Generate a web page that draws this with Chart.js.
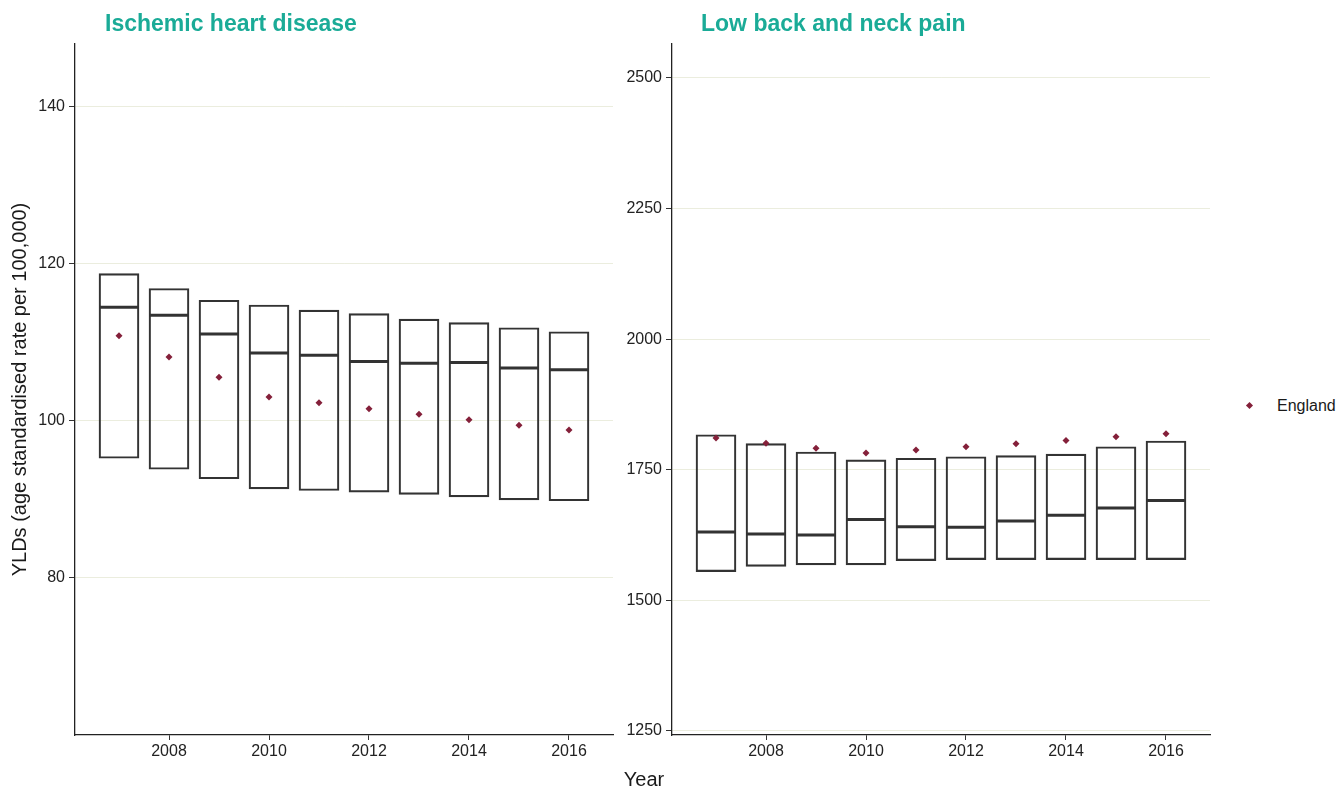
<!DOCTYPE html>
<html><head><meta charset="utf-8">
<script src="https://cdn.jsdelivr.net/npm/chart.js@4.4.1/dist/chart.umd.min.js"></script>
<style>
body{margin:0;background:#fff;width:1341px;height:789px;position:relative;overflow:hidden;font-family:"Liberation Sans",Arial,sans-serif;}
canvas{position:absolute;top:0;}
.ptitle{position:absolute;font-weight:bold;font-size:23px;color:#1aab97;line-height:23px;top:12px;white-space:nowrap;}
.xtitle{position:absolute;font-size:20px;line-height:20px;top:769px;left:644px;transform:translateX(-50%);color:#1a1a1a;white-space:nowrap;}
.legtext{position:absolute;font-size:16px;line-height:16px;top:398px;left:1277px;color:#1a1a1a;}
.legkey{position:absolute;left:1246.5px;top:402.5px;width:5px;height:5px;background:#84203a;transform:rotate(45deg);}
</style></head>
<body>
<canvas id="c1" width="618" height="789" style="left:0px"></canvas>
<canvas id="c2" width="600" height="789" style="left:615px"></canvas>
<div class="ptitle" style="left:105px">Ischemic heart disease</div>
<div class="ptitle" style="left:701px">Low back and neck pain</div>
<div class="xtitle">Year</div>
<div class="legkey"></div>
<div class="legtext">England</div>
<script>
const years = [2007, 2008, 2009, 2010, 2011, 2012, 2013, 2014, 2015, 2016];
const xTickValues = [2008, 2010, 2012, 2014, 2016];

const heartLower  = [95.2, 93.8, 92.6, 91.3, 91.1, 90.9, 90.6, 90.3, 89.9, 89.8];
const heartMedian = [114.4, 113.4, 111.0, 108.6, 108.3, 107.5, 107.3, 107.4, 106.7, 106.45];
const heartUpper  = [118.7, 116.8, 115.3, 114.7, 114.05, 113.6, 112.9, 112.45, 111.8, 111.3];
const heartEngland = [110.8, 108.1, 105.5, 103.0, 102.25, 101.5, 100.8, 100.1, 99.4, 98.8];
const heartYTicks = [80, 100, 120, 140];

const backLower  = [1555, 1565, 1568, 1568, 1576, 1578, 1578, 1578, 1578, 1578];
const backMedian = [1631, 1627, 1625, 1655, 1641, 1640, 1652, 1663, 1677, 1691];
const backUpper  = [1817, 1800, 1784, 1769, 1772, 1775, 1777, 1780, 1794, 1805];
const backEngland = [1811, 1801, 1791, 1782, 1788, 1794, 1800, 1806, 1813, 1819];
const backYTicks = [1250, 1500, 1750, 2000, 2250, 2500];

const FONT = '"Liberation Sans", Arial, sans-serif';
const POINT_COLOR = '#84203a';
const BOX_COLOR = '#333333';

function makeChart(id, lower, median, upper, england, yMin, yMax, yTicks, yWidth, rightPad, yTitle) {
  return new Chart(document.getElementById(id), {
    type: 'bar',
    data: {
      datasets: [
        { type: 'scatter', label: 'England', order: 0,
          data: years.map((x, i) => ({ x: x, y: england[i] })),
          pointStyle: 'rectRot', pointRadius: 3.5, pointHoverRadius: 3.5,
          backgroundColor: POINT_COLOR, borderColor: POINT_COLOR, borderWidth: 0 },
        { type: 'scatter', label: 'Median', order: 1,
          data: years.map((x, i) => ({ x: x, y: median[i] })),
          pointStyle: 'line', pointRadius: 19.5, pointHoverRadius: 19.5,
          borderColor: BOX_COLOR, backgroundColor: BOX_COLOR, borderWidth: 3 },
        { type: 'bar', label: 'Range', order: 2,
          data: years.map((x, i) => ({ x: x, y: [lower[i], upper[i]] })),
          backgroundColor: 'rgba(0,0,0,0)', borderColor: BOX_COLOR, borderWidth: 1.5,
          borderSkipped: false, barThickness: 40 }
      ]
    },
    options: {
      responsive: false, animation: false,
      layout: { autoPadding: false, padding: { left: 0, top: 44, right: rightPad, bottom: 24 } },
      plugins: { legend: { display: false }, tooltip: { enabled: false } },
      scales: {
        x: {
          type: 'linear', min: 2006.12, max: 2016.88, offset: false,
          afterBuildTicks: s => { s.ticks = xTickValues.map(v => ({ value: v })); },
          afterFit: s => { s.height = 30; s.paddingLeft = 0; s.paddingRight = 0; },
          ticks: { callback: v => String(v), font: { family: FONT, size: 16 }, color: '#222', padding: 2, maxRotation: 0, autoSkip: false },
          grid: { offset: false, drawOnChartArea: false, color: '#333', tickColor: '#333', tickLength: 5 },
          border: { display: true, color: '#222', width: 1.3 }
        },
        y: {
          type: 'linear', min: yMin, max: yMax,
          afterBuildTicks: s => { s.ticks = yTicks.map(v => ({ value: v })); },
          afterFit: s => { s.width = yWidth; s.paddingTop = 0; s.paddingBottom = 0; },
          ticks: { callback: v => String(v), font: { family: FONT, size: 16 }, color: '#222', padding: 4, autoSkip: false },
          grid: { color: '#ebedde', lineWidth: 1, tickColor: '#333', tickLength: 6 },
          border: { display: true, color: '#222', width: 1.3 },
          title: { display: !!yTitle, text: yTitle || '', font: { family: FONT, size: 20 }, color: '#1a1a1a', padding: { top: 8, bottom: 0 } }
        }
      }
    }
  });
}

makeChart('c1', heartLower, heartMedian, heartUpper, heartEngland, 60, 147.9, heartYTicks, 75, 5, 'YLDs (age standardised rate per 100,000)');
makeChart('c2', backLower, backMedian, backUpper, backEngland, 1242.3, 2565, backYTicks, 57, 5, '');
</script>
</body></html>
